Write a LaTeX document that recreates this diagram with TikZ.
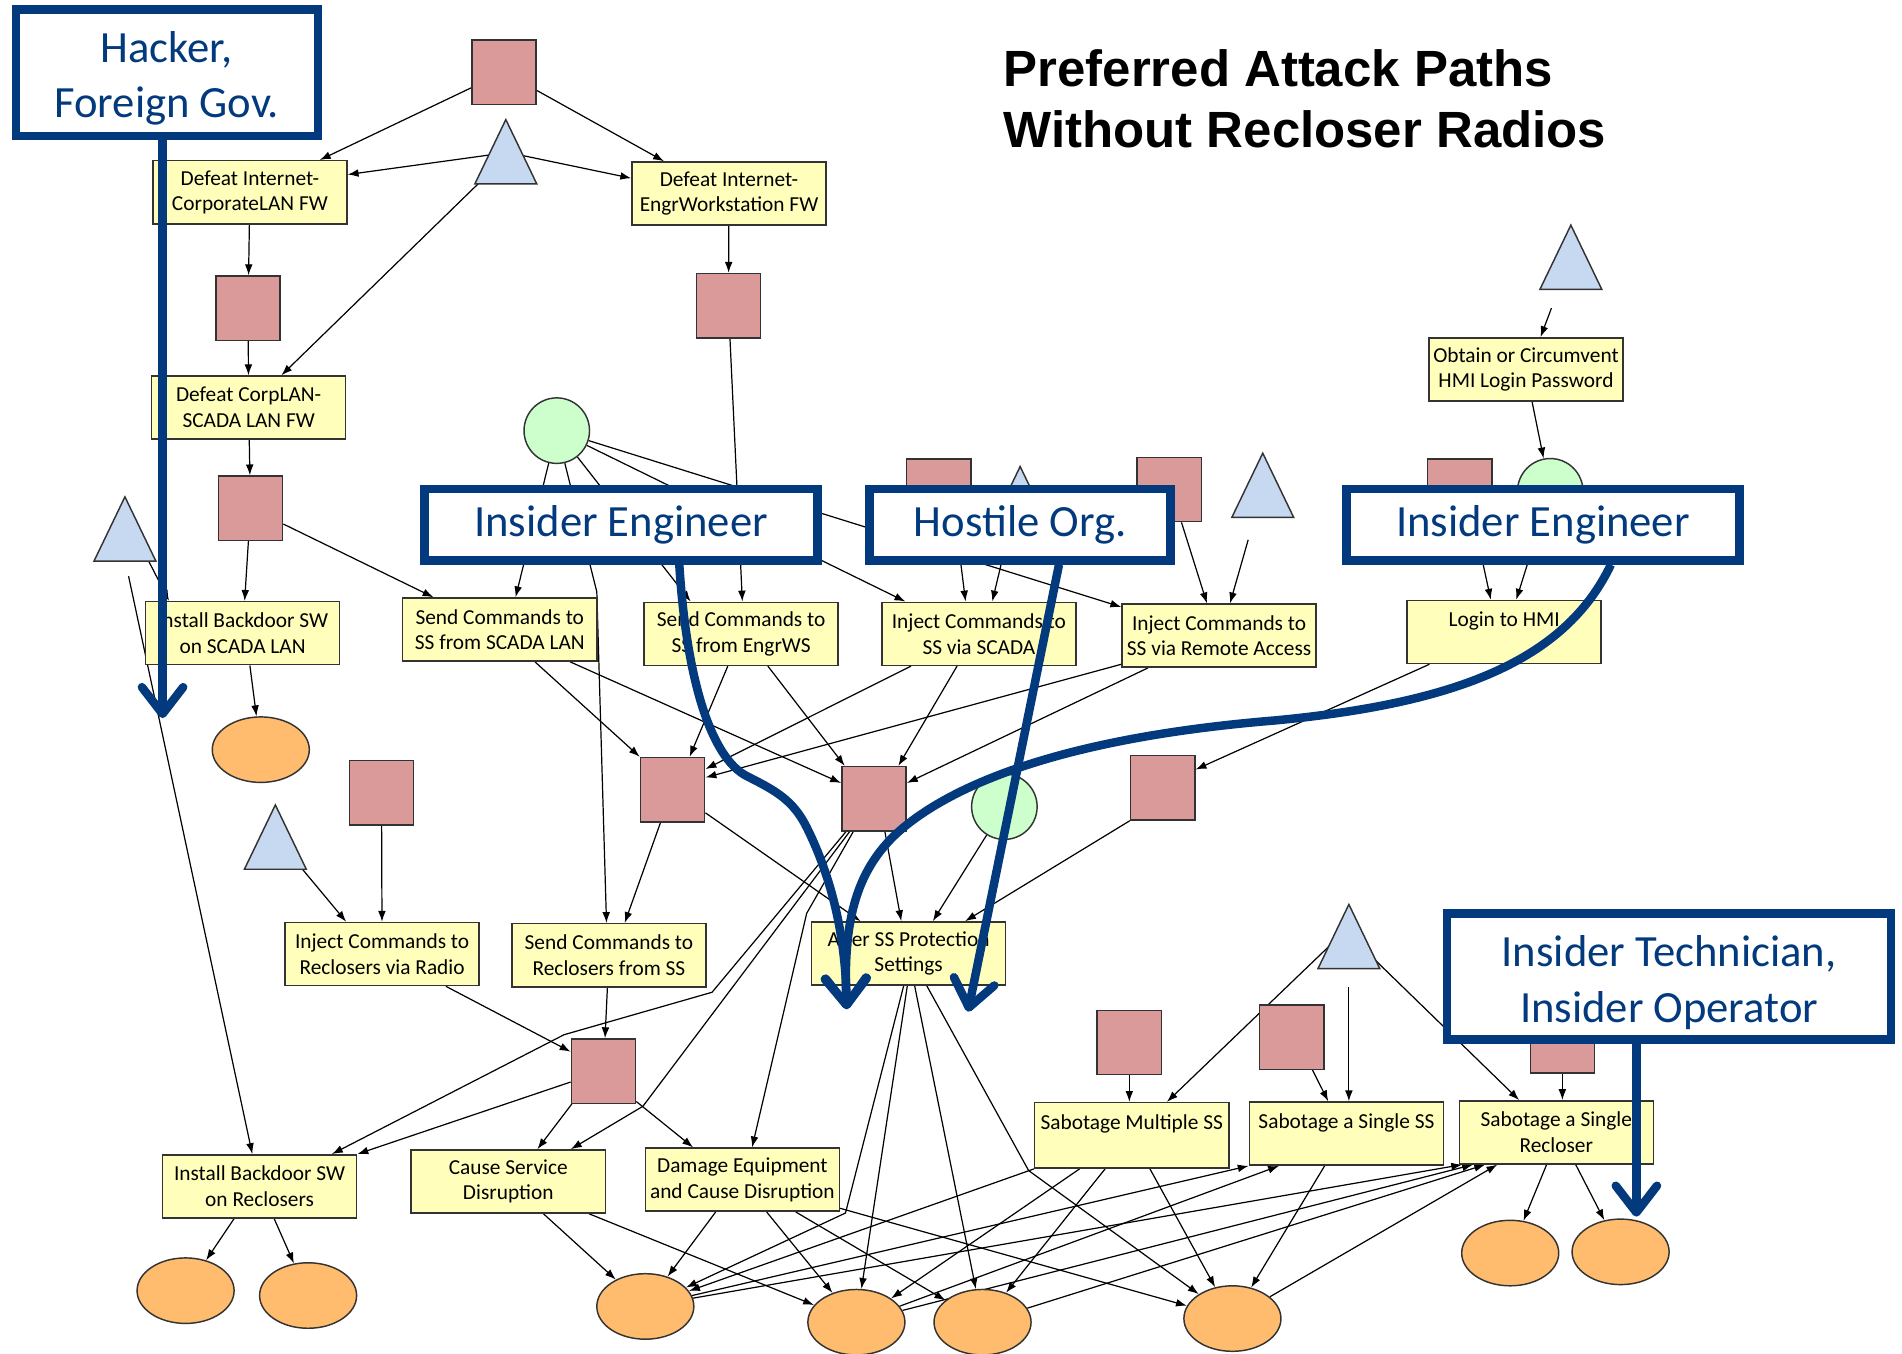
\documentclass[tikz,border=0pt]{standalone}
\usepackage{fontspec}
\setmainfont{Carlito}
\newfontfamily\ttlfont{Liberation Sans}
\usetikzlibrary{shapes.geometric,arrows.meta,calc}
\pgfdeclarelayer{bglayer}
\pgfdeclarelayer{edgelayer}
\pgfsetlayers{bglayer,edgelayer,main}
\definecolor{cYel}{HTML}{FFFFBB}
\definecolor{cPink}{HTML}{DA9A9A}
\definecolor{cBlue}{HTML}{C6D9F1}
\definecolor{cGreen}{HTML}{CCFFCC}
\definecolor{cOrange}{HTML}{FFBB6E}
\definecolor{cNavy}{HTML}{023A7D}
\definecolor{cLine}{HTML}{333333}
\begin{document}
\begin{tikzpicture}[x=0.5pt,y=-0.5pt,
  gbox/.style={draw=cLine, line width=0.6pt, fill=cYel, minimum width=80pt, minimum height=26pt, inner sep=1pt, align=center, font=\fontsize{8.8}{10.6}\selectfont, text=black},
  pbox/.style={draw=cLine, line width=0.6pt, fill=cPink, minimum width=26.5pt, minimum height=26.5pt, inner sep=0pt},
  tri/.style={isosceles triangle, isosceles triangle stretches, shape border rotate=90, draw=cLine, fill=cBlue, minimum width=25.5pt, minimum height=26.5pt, inner sep=0pt, line width=0.6pt, anchor=apex},
  gcirc/.style={circle, draw=cLine, fill=cGreen, minimum size=27pt, inner sep=0pt, line width=0.6pt},
  oell/.style={ellipse, draw=cLine, fill=cOrange, minimum width=40pt, minimum height=27pt, inner sep=0pt, line width=0.6pt},
  lbl/.style={draw=cNavy, line width=3.5pt, fill=white, text=cNavy, font=\fontsize{18.4}{23}\selectfont, align=center, inner sep=0pt},
  conn/.style={draw=black, line width=0.5pt, -{Latex[length=4.5pt,width=3.2pt]}},
  bigarrow/.style={draw=cNavy, line width=3.5pt, -{Straight Barb[length=11pt,width=17pt,round]}},
  ttl/.style={anchor=base west, inner sep=0pt, font=\ttlfont\bfseries\fontsize{21}{25}\selectfont}
]
\begin{pgfonlayer}{bglayer}
\fill[white] (0,0) rectangle (1568,1116);
\end{pgfonlayer}
\useasboundingbox (0,0) rectangle (1568,1116);

% title
\node[ttl] (ttl1) at (827,71.5) {Preferred Attack Paths};
\node[ttl] (ttl2) at (827,121.5) {Without Recloser Radios};

% yellow boxes
\node[gbox] (a1) at (206,158.5) {Defeat Internet-\\CorporateLAN FW};
\node[gbox] (a2) at (601,159.5) {Defeat Internet-\\EngrWorkstation FW};
\node[gbox] (a3) at (205,336) {Defeat CorpLAN-\\SCADA LAN FW};
\node[gbox] (a4) at (200,522) {Install Backdoor SW\\on SCADA LAN};
\node[gbox] (a5) at (412,519) {Send Commands to\\SS from SCADA LAN};
\node[gbox] (a6) at (611,522.5) {Send Commands to\\SS from EngrWS};
\node[gbox] (a7) at (807,522.5) {Inject Commands to\\SS via SCADA};
\node[gbox] (a8) at (1005,524) {Inject Commands to\\SS via Remote Access};
\node[gbox] (a9) at (1258,304.5) {Obtain or Circumvent\\HMI Login Password};
\node[gbox] (a10) at (1240,521) {Login to HMI\\\mbox{}};
\node[gbox] (a11) at (315,786.5) {Inject Commands to\\Reclosers via Radio};
\node[gbox] (a12) at (502,787.5) {Send Commands to\\Reclosers from SS};
\node[gbox] (a13) at (749,786) {Alter SS Protection\\Settings};
\node[gbox] (a14) at (214,978) {Install Backdoor SW\\on Reclosers};
\node[gbox] (a15) at (419,974) {Cause Service\\Disruption};
\node[gbox] (a16) at (612,972.5) {Damage Equipment\\and Cause Disruption};
\node[gbox, minimum height=27pt] (a17) at (933,936) {Sabotage Multiple SS\\\mbox{}};
\node[gbox] (a18) at (1110,934.5) {Sabotage a Single SS\\\mbox{}};
\node[gbox] (a19) at (1283,933.5) {Sabotage a Single\\Recloser};

% pink boxes
\node[pbox] (p1) at (415.5,59.5) {};
\node[pbox] (p2) at (204.5,254) {};
\node[pbox] (p3) at (600.5,252) {};
\node[pbox] (p4) at (206.5,419) {};
\node[pbox] (p5) at (774,405) {};
\node[pbox] (p6) at (964,403.5) {};
\node[pbox] (p7) at (1203.5,405) {};
\node[pbox] (p8) at (314.5,653.5) {};
\node[pbox] (p9) at (554.5,651) {};
\node[pbox] (p10) at (720.5,658.5) {};
\node[pbox] (p11) at (958.5,649.5) {};
\node[pbox] (p12) at (497.5,883) {};
\node[pbox] (p13) at (931,859.5) {};
\node[pbox] (p14) at (1065,855) {};
\node[pbox] (p15) at (1288,858) {};

% triangles
\node[tri] (t1) at (417,97) {};
\node[tri] (t2) at (1295,184) {};
\node[tri] (t3) at (103,408) {};
\node[tri] (t4) at (1041,372) {};
\node[tri] (t5) at (841,383) {};
\node[tri] (t6) at (227,662) {};
\node[tri] (t7) at (1112,744) {};

% green circles
\node[gcirc] (g1) at (459,355) {};
\node[gcirc] (g2) at (1278,405) {};
\node[gcirc] (g3) at (828,665) {};

% orange ellipses
\node[oell] (o1) at (215,618) {};
\node[oell] (o2) at (153,1064) {};
\node[oell] (o3) at (254,1068) {};
\node[oell] (o4) at (532,1077) {};
\node[oell] (o5) at (706,1090) {};
\node[oell] (o6) at (810,1090) {};
\node[oell] (o7) at (1016,1087) {};
\node[oell] (o8) at (1245,1033) {};
\node[oell] (o9) at (1336,1032) {};

\begin{pgfonlayer}{edgelayer}
% top
\draw[conn] (p1) -- ($(a1.north east)+(-23,0)$);
\draw[conn] (p1) -- ($(a2.north west)+(27,0)$);
\draw[conn] ($(t1.apex)+(-8,30)$) -- ($(a1.north east)+(0,12)$);
\draw[conn] ($(t1.apex)+(8,30)$) -- ($(a2.north west)+(0,14)$);
\draw[conn] ($(t1.apex)+(-12,44)$) -- ($(a3.north)+(27,0)$);
\draw[conn] (a1) -- (p2);
\draw[conn] (p2) -- (a3);
\draw[conn] (a2) -- (p3);
\draw[conn] (a3) -- (p4);
\draw[conn] (p4) -- (a4);
\draw[conn] ($(p4.east)+(0,13)$) -- ($(a5.north west)+(26,0)$);
\draw[conn] ($(t3.apex)+(8,32)$) -- ($(a4.north west)+(20,0)$);
\draw[conn] ($(t3.apex)+(3,67)$) -- ($(a14.north)+(-6,0)$);
\draw[conn] (g1) -- ($(a5.north)+(13,0)$);
\draw[conn] (g1) -- (492,488) -- ($(a12.north)+(-2,0)$);
\draw[conn] (g1) -- ($(a6.north west)+(39,0)$);
\draw[conn] (g1) -- ($(a7.north west)+(20,0)$);
\draw[conn] (g1) -- ($(a8.north west)+(0,3)$);
\draw[conn] (p3) -- ($(a6.north)+(1,0)$);
\draw[conn] ($(p5.south)+(14,0)$) -- ($(a7.north)+(-11,0)$);
\draw[conn] ($(t5.apex)+(-8,50)$) -- ($(a7.north)+(11,0)$);
\draw[conn] ($(p6.south)+(10,0)$) -- ($(a8.north)+(-10,0)$);
\draw[conn] ($(t4.apex)+(-12,73)$) -- ($(a8.north)+(9,0)$);
\draw[conn] ($(p7.south)+(12,0)$) -- ($(a10.north)+(-11,0)$);
\draw[conn] (g2) -- ($(a10.north)+(10,0)$);
\draw[conn] ($(a9.south)+(5,0)$) -- (g2);
\draw[conn] ($(t2.apex)+(-16,70)$) -- ($(a9.north)+(12,0)$);
% middle
\draw[conn] ($(a5.south)+(29,0)$) -- (p9.north west);
\draw[conn] ($(a5.south)+(58,0)$) -- ($(p10.west)+(0,-13)$);
\draw[conn] ($(a6.south)+(-11,0)$) -- ($(p9.north)+(14,0)$);
\draw[conn] ($(a6.south)+(22,0)$) -- ($(p10.north west)+(3,0)$);
\draw[conn] ($(a7.south)+(-56,0)$) -- ($(p9.east)+(0,-17)$);
\draw[conn] ($(a8.south west)+(0,-3)$) -- ($(p9.east)+(0,-10)$);
\draw[conn] ($(a7.south)+(-18,0)$) -- ($(p10.north east)+(-7,0)$);
\draw[conn] ($(a8.south west)+(22,0)$) -- ($(p10.east)+(0,-13)$);
\draw[conn] ($(a10.south west)+(19,0)$) -- ($(p11.north east)+(0,12)$);
\draw[conn] (p8) -- (a11);
\draw[conn] ($(t6.apex)+(11,41)$) -- ($(a11.north west)+(51,0)$);
\draw[conn] ($(p9.south)+(-10,0)$) -- ($(a12.north)+(13,0)$);
\draw[conn] ($(p9.south east)+(0,-8)$) -- ($(a13.north west)+(41,0)$);
\draw[conn] ($(p10.south)+(9,0)$) -- ($(a13.north)+(-6,0)$);
\draw[conn] (g3) -- ($(a13.north)+(20,0)$);
\draw[conn] (p11.south west) -- ($(a13.north east)+(-34,0)$);
\draw[conn] ($(a11.south east)+(-28,0)$) -- ($(p12.west)+(0,-16)$);
\draw[conn] (a12) -- (p12);
\draw[conn] ($(p12.west)+(0,9)$) -- (a14.north east);
\draw[conn] ($(p12.south west)+(1,0)$) -- ($(a15.north)+(24,0)$);
\draw[conn] ($(p12.south east)+(0,-2)$) -- ($(a16.north west)+(40,0)$);
\draw[conn] ($(p10.south west)+(4,0)$) -- (587,818) -- (465,853) -- ($(a14.north east)+(-21,0)$);
\draw[conn] ($(p10.south west)+(7,0)$) -- (530,912) -- ($(a15.north east)+(-29,0)$);
\draw[conn] ($(p10.south west)+(10,0)$) -- (665,753) -- ($(a16.north)+(8,0)$);
\draw[conn] ($(a4.south)+(6,0)$) -- (o1);
% bottom
\draw[conn] ($(a13.south)+(-4,0)$) -- (697,1000) -- (o4);
\draw[conn] ($(a13.south)+(-1,0)$) -- (o5);
\draw[conn] ($(a13.south)+(5,0)$) -- (o6);
\draw[conn] ($(a13.south)+(15,0)$) -- (848,965) -- (o7);
\draw[conn] ($(a15.south)+(29,0)$) -- (o4);
\draw[conn] ($(a15.south east)+(-14,0)$) -- (o5);
\draw[conn] ($(a16.south)+(-22,0)$) -- (o4);
\draw[conn] ($(a16.south)+(20,0)$) -- (o5);
\draw[conn] ($(a16.south)+(44,0)$) -- (o6);
\draw[conn] ($(a16.south east)+(0,-3)$) -- (o7);
\draw[conn] (a17.south west) -- (o4);
\draw[conn] ($(a17.south)+(-43,0)$) -- (o5);
\draw[conn] ($(a17.south)+(-22,0)$) -- (o6);
\draw[conn] ($(a17.south)+(15,0)$) -- (o7);
\draw[conn] ($(a18.south)+(-18,0)$) -- (o7);
\draw[conn] (o4) -- (a18.south west);
\draw[conn] (o5) -- ($(a18.south west)+(25,0)$);
\draw[conn] (o4) -- ($(a19.south west)+(3,0)$);
\draw[conn] (o5) -- ($(a19.south west)+(12,0)$);
\draw[conn] (o6) -- ($(a19.south west)+(22,0)$);
\draw[conn] (o7) -- ($(a19.south west)+(32,0)$);
\draw[conn] ($(p14.south)+(17,0)$) -- ($(a18.north)+(-15,0)$);
\draw[conn] ($(t7.apex)+(0,70)$) -- ($(a18.north)+(2,0)$);
\draw[conn] ($(t7.apex)+(-10,30)$) -- ($(a17.north)+(29,0)$);
\draw[conn] ($(t7.apex)+(14,40)$) -- ($(a19.north west)+(50,0)$);
\draw[conn] (p13) -- (p13 |- a17.north);
\draw[conn] (p15) -- (p15 |- a19.north);
\draw[conn] ($(a19.south)+(-8,0)$) -- (o8);
\draw[conn] ($(a19.south)+(16,0)$) -- (o9);
\draw[conn] ($(a14.south)+(-21,0)$) -- (o2);
\draw[conn] ($(a14.south)+(12,0)$) -- (o3);
\end{pgfonlayer}

% threat-actor labels
\node[lbl, minimum width=124.5pt, minimum height=52pt] (hk) at (137.5,60) {\rule{0pt}{17.4pt}Hacker,\\Foreign Gov.};
\node[lbl, minimum width=162pt, minimum height=29.5pt] (ieL) at (512,432.5) {Insider Engineer};
\node[lbl, minimum width=124pt, minimum height=29.5pt] (ho) at (841,432.5) {Hostile Org.};
\node[lbl, minimum width=162pt, minimum height=29.5pt] (ieR) at (1272,432.5) {Insider Engineer};
\node[lbl, minimum width=183pt, minimum height=52pt] (tech) at (1376,805) {\rule{0pt}{17.6pt}Insider Technician,\\Insider Operator};

\coordinate (hkEnd) at (134,592);
\coordinate (ieEnd) at (698,832);
\coordinate (hoEnd) at (798,834);
\coordinate (techEnd) at (1349,1003);
\draw[bigarrow] ($(hk.south)+(-3.5,0)$) -- (hkEnd);
\draw[bigarrow] ($(ieL.south)+(48,0)$) .. controls (566,560) and (586,625) .. (616,640) .. controls (640,652) and (654,660) .. (665,682) .. controls (680,712) and (697,760) .. (ieEnd);
\draw[bigarrow] ($(ho.south)+(32,0)$) -- (hoEnd);
\draw[bigarrow] ($(ieR.south)+(56,0)$) .. controls (1290,545) and (1200,580) .. (1050,594) .. controls (880,608) and (790,645) .. (745,682) .. controls (705,715) and (695,760) .. (ieEnd);
\draw[bigarrow] ($(tech.south)+(-27,0)$) -- (techEnd);
\end{tikzpicture}
\end{document}
